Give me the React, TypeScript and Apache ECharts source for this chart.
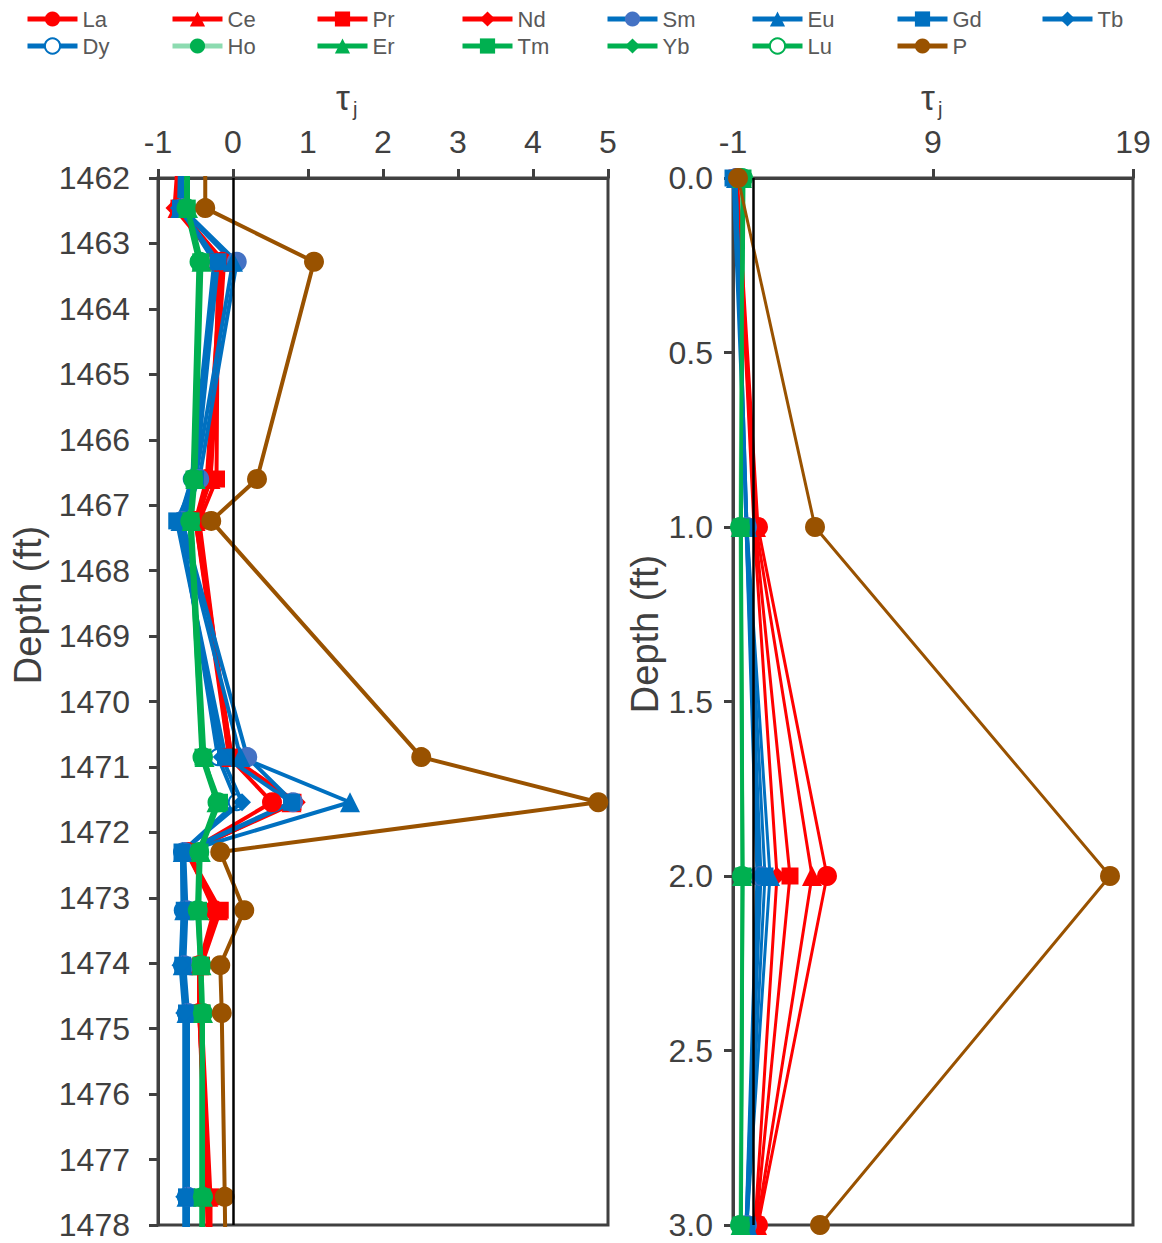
import React, { useEffect, useRef } from "react";
import * as echarts from "echarts";

// ---------- DATA ----------
const elements = ["La", "Ce", "Pr", "Nd", "Sm", "Eu", "Gd", "Tb", "Dy", "Ho", "Er", "Tm", "Yb", "Lu", "P"];

// Left panel depths (ft); first and last lie just outside the axis range
const depthsLeft = [1461.5, 1462.46, 1463.28, 1466.6, 1467.24, 1470.85, 1471.54, 1472.3, 1473.19, 1474.03, 1474.76, 1477.57, 1478.5];
const leftLa = [-0.68, -0.72, -0.15, -0.35, -0.5, -0.05, 0.52, -0.6, -0.25, -0.45, -0.45, -0.35, -0.33];
const leftCe = [-0.7, -0.74, -0.12, -0.3, -0.5, -0.02, 0.78, -0.6, -0.2, -0.45, -0.45, -0.33, -0.32];
const leftPr = [-0.68, -0.72, -0.2, -0.22, -0.45, -0.05, 0.8, -0.6, -0.17, -0.42, -0.42, -0.3, -0.3];
const leftNd = [-0.72, -0.78, -0.18, -0.3, -0.48, -0.02, 0.85, -0.62, -0.22, -0.45, -0.45, -0.33, -0.32];
const leftSm = [-0.68, -0.68, 0.05, -0.45, -0.68, 0.19, 0.8, -0.65, -0.62, -0.65, -0.6, -0.6, -0.6];
const leftEu = [-0.7, -0.7, 0.0, -0.5, -0.7, 0.1, 1.56, -0.67, -0.65, -0.67, -0.62, -0.62, -0.62];
const leftGd = [-0.7, -0.7, -0.2, -0.5, -0.75, -0.1, 0.78, -0.68, -0.65, -0.67, -0.62, -0.62, -0.62];
const leftTb = [-0.7, -0.72, -0.22, -0.55, -0.72, -0.15, 0.12, -0.68, -0.67, -0.7, -0.65, -0.65, -0.65];
const leftDy = [-0.7, -0.7, -0.25, -0.55, -0.7, -0.2, 0.05, -0.68, -0.67, -0.68, -0.63, -0.63, -0.63];
const leftHo = [-0.62, -0.62, -0.44, -0.53, -0.57, -0.4, -0.2, -0.45, -0.47, -0.42, -0.4, -0.4, -0.4];
const leftEr = [-0.6, -0.6, -0.42, -0.5, -0.55, -0.38, -0.22, -0.43, -0.45, -0.42, -0.4, -0.4, -0.4];
const leftTm = [-0.6, -0.61, -0.43, -0.52, -0.56, -0.4, -0.18, -0.44, -0.46, -0.43, -0.41, -0.41, -0.41];
const leftYb = [-0.61, -0.62, -0.45, -0.53, -0.58, -0.41, -0.2, -0.46, -0.47, -0.44, -0.42, -0.42, -0.42];
const leftLu = [-0.62, -0.63, -0.46, -0.54, -0.58, -0.42, -0.22, -0.46, -0.48, -0.44, -0.42, -0.42, -0.42];
const leftP = [-0.37, -0.37, 1.08, 0.32, -0.29, 2.51, 4.87, -0.17, 0.15, -0.17, -0.15, -0.11, -0.1];

// Right panel depths (ft)
const depthsRight = [0, 1, 2, 3];
const rightLa = [-0.8, 0.25, 3.7, 0.25];
const rightCe = [-0.8, 0.15, 2.95, 0.2];
const rightPr = [-0.8, 0.1, 1.85, 0.15];
const rightNd = [-0.8, 0.05, 1.2, 0.1];
const rightSm = [-0.85, -0.3, 0.4, -0.3];
const rightEu = [-0.85, -0.3, 0.85, -0.3];
const rightGd = [-1.0, -0.3, 0.6, -0.3];
const rightTb = [-0.85, -0.35, 0.3, -0.35];
const rightDy = [-0.85, -0.35, 0.2, -0.35];
const rightHo = [-0.55, -0.65, -0.55, -0.65];
const rightEr = [-0.55, -0.62, -0.55, -0.62];
const rightTm = [-0.5, -0.6, -0.5, -0.6];
const rightYb = [-0.5, -0.6, -0.52, -0.6];
const rightLu = [-0.45, -0.58, -0.5, -0.58];
const rightP = [-0.75, 3.1, 17.85, 3.35];

const leftX = [-1, 0, 1, 2, 3, 4, 5];
const rightX = [-1, 9, 19];

const leftValues = [leftLa, leftCe, leftPr, leftNd, leftSm, leftEu, leftGd, leftTb, leftDy, leftHo, leftEr, leftTm, leftYb, leftLu, leftP];
const rightValues = [rightLa, rightCe, rightPr, rightNd, rightSm, rightEu, rightGd, rightTb, rightDy, rightHo, rightEr, rightTm, rightYb, rightLu, rightP];

// ---------- STYLES ----------
const RED = "#FF0000";
const BLUE = "#0070C0";
const SMBLUE = "#4472C4";
const GREEN = "#00B050";
const BROWN = "#995200";
const styles: Record<string, { color: string; symbol: string; line?: string }> = {
  La: { color: RED, symbol: "circle" },
  Ce: { color: RED, symbol: "triangle" },
  Pr: { color: RED, symbol: "rect" },
  Nd: { color: RED, symbol: "diamond" },
  Sm: { color: SMBLUE, symbol: "circle", line: BLUE },
  Eu: { color: BLUE, symbol: "triangle" },
  Gd: { color: BLUE, symbol: "rect" },
  Tb: { color: BLUE, symbol: "diamond" },
  Dy: { color: BLUE, symbol: "emptyCircle" },
  Ho: { color: GREEN, symbol: "circle", line: "rgba(0,176,80,0.45)" },
  Er: { color: GREEN, symbol: "triangle" },
  Tm: { color: GREEN, symbol: "rect" },
  Yb: { color: GREEN, symbol: "diamond" },
  Lu: { color: GREEN, symbol: "emptyCircle" },
  P: { color: BROWN, symbol: "circle" },
};

const FONT = "'Liberation Sans', Arial, Helvetica, sans-serif";
const AXIS = "#404040";
const LEGEND_X = [25, 170, 315, 460, 605, 750, 895, 1040];

function symSize(sym: string) {
  const base = 20;
  if (sym === "rect") return base - 3;
  if (sym === "diamond") return base - 2;
  if (sym === "emptyCircle") return base - 4;
  return base;
}

function buildSeries(idx: number, depths: number[], valuesList: number[][], lineW: number) {
  return elements.map((name, i) => {
    const st = styles[name];
    const vals = valuesList[i];
    const empty = st.symbol === "emptyCircle";
    return {
      type: "line",
      name,
      xAxisIndex: idx,
      yAxisIndex: idx,
      z: empty ? 1 : 2,
      data: depths.map((d, k) => [vals[k], d]),
      symbol: st.symbol,
      symbolSize: symSize(st.symbol),
      showAllSymbol: true,
      clip: true,
      lineStyle: { color: st.line || st.color, width: lineW },
      itemStyle: empty
        ? { color: st.color, borderColor: st.color, borderWidth: 2.5 }
        : { color: st.color },
      emphasis: { disabled: true },
    };
  });
}

export default function App() {
  const ref = useRef<HTMLDivElement>(null);
  useEffect(() => {
    if (!ref.current) return;
    const chart = echarts.init(ref.current, undefined, { renderer: "svg" });

    const axisCommon = {
      type: "value",
      axisLine: { show: true, onZero: false, lineStyle: { color: AXIS, width: 3 } },
      axisTick: { show: true, inside: false, length: 9, lineStyle: { color: AXIS, width: 3 } },
      splitLine: { show: false },
      axisLabel: { fontSize: 32, color: AXIS, fontFamily: FONT },
    };

    const zeroLine = (idx: number) => ({
      type: "line",
      xAxisIndex: idx,
      yAxisIndex: idx,
      data: [],
      silent: true,
      z: 3,
      markLine: {
        silent: true,
        symbol: "none",
        label: { show: false },
        lineStyle: { color: "#000", width: 2.5, type: "solid" },
        data: [{ xAxis: 0 }],
        animation: false,
      },
    });

    const legends = elements.map((n, i) => ({
      data: [n],
      left: LEGEND_X[i % 8],
      top: i < 8 ? 8 : 35,
      padding: 0,
      itemGap: 0,
      itemWidth: 50,
      itemHeight: 19,
      lineStyle: { width: 5 },
      textStyle: { fontSize: 22, color: "#595959", fontFamily: FONT },
    }));

    const option = {
      animation: false,
      backgroundColor: "#fff",
      legend: legends,
      grid: [
        { left: 158, top: 178, width: 450, height: 1047, show: true, borderColor: AXIS, borderWidth: 3 },
        { left: 733, top: 178, width: 400, height: 1047, show: true, borderColor: AXIS, borderWidth: 3 },
      ],
      xAxis: [
        {
          ...axisCommon,
          gridIndex: 0,
          position: "top",
          min: -1,
          max: 5,
          axisLabel: { ...axisCommon.axisLabel, margin: 20, customValues: leftX },
          axisTick: { ...axisCommon.axisTick, customValues: leftX },
        },
        {
          ...axisCommon,
          gridIndex: 1,
          position: "top",
          min: -1,
          max: 19,
          axisLabel: { ...axisCommon.axisLabel, margin: 20, customValues: rightX },
          axisTick: { ...axisCommon.axisTick, customValues: rightX },
        },
      ],
      yAxis: [
        {
          ...axisCommon,
          gridIndex: 0,
          inverse: true,
          min: 1462,
          max: 1478,
          interval: 1,
          axisLabel: { ...axisCommon.axisLabel, margin: 28, formatter: (v: number) => String(v) },
        },
        {
          ...axisCommon,
          gridIndex: 1,
          inverse: true,
          min: 0,
          max: 3,
          interval: 0.5,
          axisLabel: { ...axisCommon.axisLabel, margin: 20, formatter: (v: number) => v.toFixed(1) },
        },
      ],
      graphic: [
        { type: "text", left: 336, top: 80, style: { text: "τ", fontSize: 35, fill: AXIS, fontFamily: FONT } },
        { type: "text", left: 353, top: 99, style: { text: "j", fontSize: 20, fill: AXIS, fontFamily: FONT } },
        { type: "text", left: 921, top: 80, style: { text: "τ", fontSize: 35, fill: AXIS, fontFamily: FONT } },
        { type: "text", left: 938, top: 99, style: { text: "j", fontSize: 20, fill: AXIS, fontFamily: FONT } },
        {
          type: "text",
          x: 28,
          y: 605,
          rotation: Math.PI / 2,
          style: { text: "Depth (ft)", fontSize: 38, fill: AXIS, fontFamily: FONT, align: "center", verticalAlign: "middle" },
        },
        {
          type: "text",
          x: 645,
          y: 634,
          rotation: Math.PI / 2,
          style: { text: "Depth (ft)", fontSize: 38, fill: AXIS, fontFamily: FONT, align: "center", verticalAlign: "middle" },
        },
      ],
      series: [
        zeroLine(0),
        zeroLine(1),
        ...buildSeries(0, depthsLeft, leftValues, 4),
        ...buildSeries(1, depthsRight, rightValues, 3),
      ],
    };
    chart.setOption(option as any);
    return () => chart.dispose();
  }, []);
  return <div ref={ref} style={{ position: "absolute", left: 0, top: 0, width: 1162, height: 1243 }} />;
}
